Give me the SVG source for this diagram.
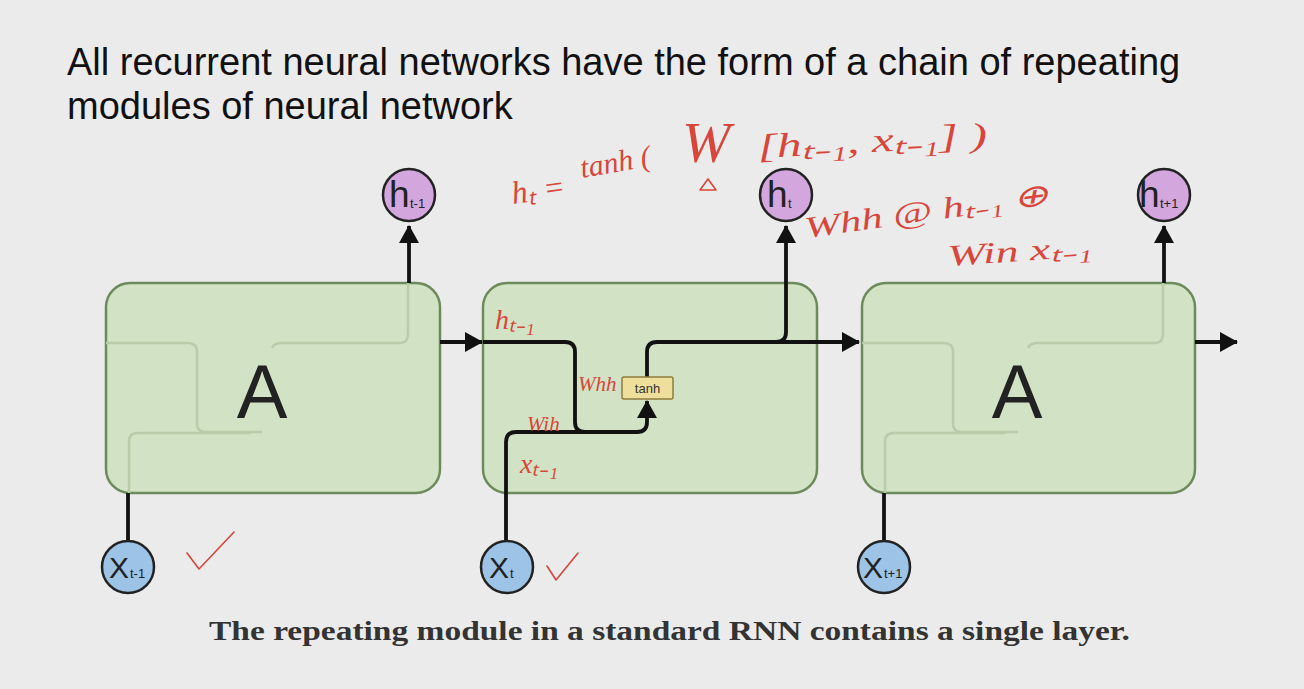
<svg xmlns="http://www.w3.org/2000/svg" width="1304" height="689" viewBox="0 0 1304 689">
  <style>
    .title { font-family: "Liberation Sans", Arial, sans-serif; font-size: 38px; fill: #111; }
    .caption { font-family: "Liberation Serif", "Times New Roman", serif; font-size: 28px; font-weight: bold; fill: #333; }
    .cell { fill: #d2e2c4; stroke: #6d8a5c; stroke-width: 2.5; }
    .ghost { fill: none; stroke: #b9cca9; stroke-width: 2.5; }
    .wire { fill: none; stroke: #111; stroke-width: 3.8; }
    .big { font-family: "Liberation Sans", Arial, sans-serif; font-size: 76px; fill: #222; text-anchor: middle; }
    .hnode { fill: #d3a7de; stroke: #222; stroke-width: 2.5; }
    .xnode { fill: #9dc3e6; stroke: #222; stroke-width: 2.5; }
    .lbl { font-family: "Liberation Sans", Arial, sans-serif; font-size: 37px; fill: #222; }
    .xl { font-family: "Liberation Sans", Arial, sans-serif; font-size: 30px; fill: #222; }
    .sub { font-family: "Liberation Sans", Arial, sans-serif; font-size: 13px; fill: #222; }
    .layer { fill: #efdf9d; stroke: #8d7c3e; stroke-width: 1.5; }
    .layertxt { font-family: "Liberation Sans", Arial, sans-serif; font-size: 13px; fill: #333; text-anchor: middle; }
    .ink { font-family: "Liberation Serif", "Times New Roman", serif; font-style: italic; fill: #d8463b; }
    .inkline { fill: none; stroke: #d8463b; stroke-width: 1.6; stroke-linecap: round; stroke-linejoin: round; }
  </style>
  <defs>
    <marker id="arrow" viewBox="0 0 18 20" refX="17" refY="10" markerWidth="18" markerHeight="20" markerUnits="userSpaceOnUse" orient="auto">
      <path d="M0,0 L18,10 L0,20 z" fill="#111"/>
    </marker>
  </defs>

  <rect width="1304" height="689" fill="#ebebeb"/>

  <!-- heading -->
  <text class="title" x="67" y="75">All recurrent neural networks have the form of a chain of repeating</text>
  <text class="title" x="67" y="119">modules of neural network</text>

  <!-- repeating cells -->
  <g id="cell-prev">
    <rect class="cell" x="106" y="283" width="334" height="210" rx="24"/>
    <path class="ghost" d="M106,343 H188 Q197,343 197,352 V424 Q197,432 206,432 H262"/>
    <path class="ghost" d="M129,493 V441 Q129,433 138,433 H250"/>
    <path class="ghost" d="M272,348 Q274,343 282,343 H400 Q408,343 408,334 V283"/>
    <text class="big" x="262" y="418">A</text>
  </g>

  <g id="cell-mid">
    <rect class="cell" x="483" y="283" width="334" height="210" rx="24"/>
  </g>

  <g id="cell-next">
    <rect class="cell" x="862" y="283" width="333" height="210" rx="24"/>
    <path class="ghost" d="M862,343 H944 Q953,343 953,352 V424 Q953,432 962,432 H1018"/>
    <path class="ghost" d="M885,493 V441 Q885,433 894,433 H1006"/>
    <path class="ghost" d="M1028,348 Q1030,343 1038,343 H1155 Q1163,343 1163,334 V283"/>
    <text class="big" x="1017" y="418">A</text>
  </g>

  <!-- connectors -->
  <g id="connectors">
    <!-- outputs -->
    <line class="wire" x1="409" y1="283" x2="409" y2="226" marker-end="url(#arrow)"/>
    <line class="wire" x1="1164" y1="283" x2="1164" y2="226" marker-end="url(#arrow)"/>
    <!-- inputs -->
    <line class="wire" x1="128" y1="541" x2="128" y2="493"/>
    <line class="wire" x1="884" y1="541" x2="884" y2="493"/>
    <!-- hidden state hand-off -->
    <line class="wire" x1="440" y1="342" x2="482" y2="342" marker-end="url(#arrow)"/>
    <line class="wire" x1="1195" y1="342" x2="1237" y2="342" marker-end="url(#arrow)"/>
    <!-- inner wiring of the middle cell -->
    <path class="wire" d="M483,342 H565 Q575,342 575,352 V422 Q575,432 585,432 H637 Q647,432 647,422 V401" marker-end="url(#arrow)"/>
    <path class="wire" d="M506,541 V442 Q506,432 516,432 H585"/>
    <path class="wire" d="M647,377 V352 Q647,342 657,342 H859" marker-end="url(#arrow)"/>
    <path class="wire" d="M776,342 Q786,342 786,332 V226" marker-end="url(#arrow)"/>
  </g>

  <g id="tanh-layer">
    <rect class="layer" x="622" y="377" width="51" height="22" rx="2"/>
    <text class="layertxt" x="647.5" y="393">tanh</text>
  </g>

  <!-- outputs h -->
  <g id="h-prev">
    <circle class="hnode" cx="409" cy="195" r="26"/>
    <text class="lbl" x="389" y="207">h</text><text class="sub" x="410" y="208">t-1</text>
  </g>
  <g id="h-cur">
    <circle class="hnode" cx="786" cy="195" r="26"/>
    <text class="lbl" x="767" y="207">h</text><text class="sub" x="788" y="208">t</text>
  </g>
  <g id="h-next">
    <circle class="hnode" cx="1164" cy="195" r="26"/>
    <text class="lbl" x="1139" y="207">h</text><text class="sub" x="1160" y="208">t+1</text>
  </g>

  <!-- inputs x -->
  <g id="x-prev">
    <circle class="xnode" cx="128" cy="567" r="26"/>
    <text class="xl" x="109" y="578">X</text><text class="sub" x="130" y="578">t-1</text>
  </g>
  <g id="x-cur">
    <circle class="xnode" cx="507" cy="567" r="26"/>
    <text class="xl" x="489" y="578">X</text><text class="sub" x="510" y="578">t</text>
  </g>
  <g id="x-next">
    <circle class="xnode" cx="884" cy="567" r="26"/>
    <text class="xl" x="863" y="578">X</text><text class="sub" x="884" y="578">t+1</text>
  </g>

  <!-- handwritten notes -->
  <g id="notes">
    <text class="ink" font-size="32" transform="rotate(-8 513 204)" x="513" y="204">hₜ =</text>
    <text class="ink" font-size="30" transform="rotate(-10 582 178)" x="582" y="178">tanh (</text>
    <text class="ink" font-size="58" x="682" y="162">W</text>
    <text class="ink" font-size="34" transform="rotate(-3 758 158)" x="758" y="158" textLength="230" lengthAdjust="spacingAndGlyphs">[hₜ₋₁, xₜ₋₁] )</text>
    <path class="inkline" d="M700,190 L708,179 L716,190 Z"/>
    <text class="ink" font-size="30" transform="rotate(-8 806 238)" x="806" y="238" textLength="246" lengthAdjust="spacingAndGlyphs">Whh @ hₜ₋₁ ⊕</text>
    <text class="ink" font-size="30" transform="rotate(-4 948 266)" x="948" y="266" textLength="145" lengthAdjust="spacingAndGlyphs">Win xₜ₋₁</text>
    <text class="ink" font-size="28" x="495" y="329">hₜ₋₁</text>
    <text class="ink" font-size="21" x="578" y="391">Whh</text>
    <text class="ink" font-size="21" x="527" y="431">Wih</text>
    <text class="ink" font-size="28" x="520" y="473">xₜ₋₁</text>
    <path class="inkline" d="M187,553 L199,569 L234,532"/>
    <path class="inkline" d="M547,566 L556,580 L578,553"/>
  </g>

  <text class="caption" x="209" y="640" textLength="921" lengthAdjust="spacingAndGlyphs">The repeating module in a standard RNN contains a single layer.</text>
</svg>
